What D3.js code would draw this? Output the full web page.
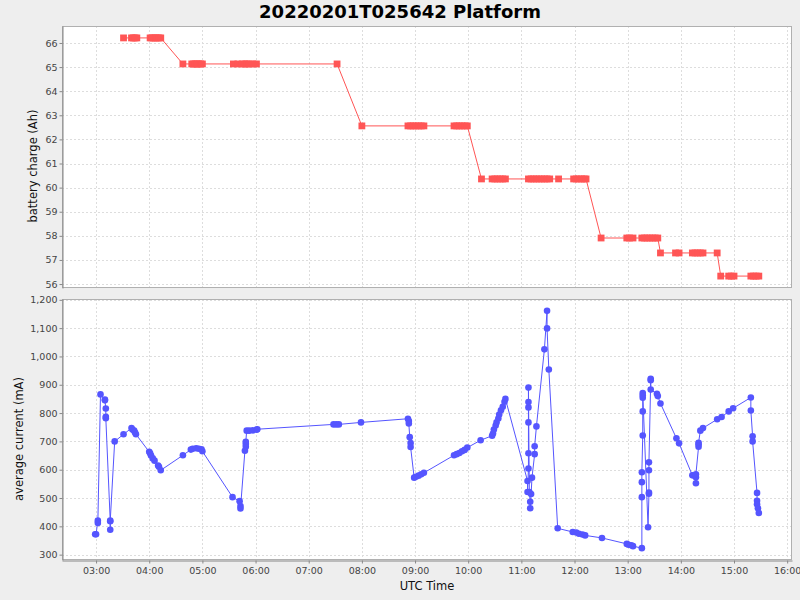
<!DOCTYPE html>
<html>
<head>
<meta charset="utf-8">
<script src="https://cdn.jsdelivr.net/npm/d3@7"></script>
<style>
  body { margin: 0; background: #eeeeee; }
  svg { display: block; font-family: "DejaVu Sans", sans-serif; }
</style>
</head>
<body>
<svg id="chart" width="800" height="600"></svg>
<script>
// battery charge samples (UTC, Ah)
const chargeTimes = [
  "03:31", "03:40", "03:42", "03:44", "03:46", "04:01", "04:03", "04:05", "04:07", "04:09", "04:11", "04:13",
  "04:38", "04:48", "04:50", "04:52", "04:54", "04:56", "04:58", "05:00",
  "05:35", "05:40", "05:45", "05:48", "05:50", "05:53", "05:57", "06:01", "07:32",
  "08:00", "08:52", "08:55", "08:58", "09:01", "09:04", "09:07", "09:10",
  "09:44", "09:47", "09:50", "09:53", "09:56", "09:59",
  "10:15", "10:27", "10:30", "10:33", "10:36", "10:39", "10:42",
  "11:08", "11:11", "11:14", "11:17", "11:20", "11:23", "11:26", "11:29", "11:32",
  "11:42", "11:59", "12:02", "12:05", "12:08", "12:11", "12:13",
  "12:30", "12:59", "13:02", "13:06", "13:16", "13:19", "13:22", "13:25", "13:28", "13:31", "13:34",
  "13:37", "13:54", "13:58", "14:13", "14:16", "14:19", "14:22", "14:25", "14:41",
  "14:45", "14:54", "14:57", "15:00", "15:19", "15:22", "15:25", "15:28"
];
const chargeValues = [
  66.21, 66.21, 66.21, 66.21, 66.21, 66.21, 66.21, 66.21, 66.21, 66.21, 66.21, 66.21,
  65.13, 65.13, 65.13, 65.13, 65.13, 65.13, 65.13, 65.13,
  65.13, 65.13, 65.13, 65.13, 65.13, 65.13, 65.13, 65.13, 65.13,
  62.56, 62.56, 62.56, 62.56, 62.56, 62.56, 62.56, 62.56,
  62.56, 62.56, 62.56, 62.56, 62.56, 62.56,
  60.36, 60.36, 60.36, 60.36, 60.36, 60.36, 60.36,
  60.36, 60.36, 60.36, 60.36, 60.36, 60.36, 60.36, 60.36, 60.36,
  60.36, 60.36, 60.36, 60.36, 60.36, 60.36, 60.36,
  57.91, 57.91, 57.91, 57.91, 57.91, 57.91, 57.91, 57.91, 57.91, 57.91, 57.91,
  57.29, 57.29, 57.29, 57.29, 57.29, 57.29, 57.29, 57.29, 57.29,
  56.33, 56.33, 56.33, 56.33, 56.33, 56.33, 56.33, 56.33
];

// average current samples (UTC, mA)
const currentTimes = [
  "02:59", "03:00", "03:02", "03:02", "03:05", "03:10", "03:10", "03:11", "03:11", "03:11", "03:16", "03:16", "03:16",
  "03:21", "03:31", "03:40", "03:41", "03:43", "03:44", "03:45",
  "04:00", "04:01", "04:02", "04:04", "04:06", "04:10", "04:11", "04:13",
  "04:38", "04:47", "04:49", "04:53", "04:56", "04:59", "05:00",
  "05:34", "05:42", "05:43", "05:43",
  "05:48", "05:49", "05:49", "05:49", "05:50", "05:53", "05:57", "06:01", "06:02",
  "07:28", "07:31", "07:34", "07:59",
  "08:52", "08:53", "08:53", "08:54", "08:55", "08:55",
  "08:59", "09:01", "09:04", "09:07", "09:10",
  "09:44", "09:47", "09:50", "09:53", "09:56", "09:59",
  "10:14", "10:27", "10:28", "10:29", "10:31", "10:32", "10:34", "10:35", "10:37", "10:39", "10:41", "10:42",
  "11:07", "11:07", "11:08", "11:08", "11:08", "11:08", "11:08", "11:08",
  "11:09", "11:10", "11:10", "11:11", "11:12", "11:15", "11:15", "11:17",
  "11:26", "11:29", "11:29", "11:31", "11:41",
  "11:58", "12:02", "12:05", "12:09", "12:12", "12:31",
  "12:59", "13:01", "13:04", "13:06",
  "13:16", "13:16", "13:16", "13:16", "13:17", "13:17", "13:17", "13:17", "13:17",
  "13:23", "13:24", "13:24", "13:24", "13:24", "13:26", "13:26", "13:26",
  "13:33", "13:34", "13:37", "13:55", "13:58",
  "14:13", "14:17", "14:17", "14:17", "14:20", "14:20", "14:20", "14:22", "14:25",
  "14:41", "14:46", "14:54", "14:59",
  "15:19", "15:19", "15:21", "15:21", "15:26", "15:26", "15:26", "15:27", "15:28"
];
const currentValues = [
  372, 372, 420, 412, 866, 848, 845, 816, 787, 782, 418, 388, 420,
  700, 725, 747, 742, 738, 731, 725,
  663, 658, 650, 640, 632, 615, 610, 598,
  651, 671, 674, 676, 674, 672, 665,
  503, 489, 472, 463,
  667, 681, 691, 699, 738, 738, 739, 741, 743,
  760, 760, 760, 767,
  780, 772, 763, 715, 694, 680,
  572, 575, 579, 584, 589,
  651, 655, 659, 665, 670, 678,
  704, 720, 728, 742, 756, 767, 781, 795, 810, 822, 840, 850,
  560, 521, 604, 658, 767, 820, 839, 890,
  521, 487, 464, 514, 572, 655, 683, 753,
  1025, 1161, 1099, 954, 393,
  380, 378, 374, 371, 368, 359,
  338, 335, 333, 330,
  323, 503, 556, 591, 721, 806, 854, 863, 871,
  397, 515, 519, 598, 626, 916, 921, 883,
  868, 860, 834, 711, 693,
  580, 573, 552, 584, 681, 690, 695, 738, 747,
  778, 786, 806, 817,
  855, 809, 718, 700, 518, 490, 478, 464, 447
];

const hourTicks = ["03:00", "04:00", "05:00", "06:00", "07:00", "08:00", "09:00", "10:00",
  "11:00", "12:00", "13:00", "14:00", "15:00", "16:00"];
const chargeTicks = [56, 57, 58, 59, 60, 61, 62, 63, 64, 65, 66];
const currentTicks = [300, 400, 500, 600, 700, 800, 900, 1000, 1100, 1200];

const parseTime = d3.utcParse("%Y-%m-%d %H:%M");
const toDate = t => parseTime("2022-02-01 " + t);

const chargeData = chargeTimes.map((t, i) => ({ t: toDate(t), v: chargeValues[i] }));
const currentData = currentTimes.map((t, i) => ({ t: toDate(t), v: currentValues[i] }));

// 5% margin on each side, like the original chart's auto range
function padded(ext) {
  const d = (ext[1] - ext[0]) * 0.05;
  return [ext[0] - d, ext[1] + d];
}

const plotLeft = 62, plotRight = 792;
const top1 = 26, bottom1 = 288;
const top2 = 299, bottom2 = 560;

const allTimes = chargeData.concat(currentData).map(d => +d.t);
const x = d3.scaleUtc()
  .domain(padded(d3.extent(allTimes)).map(v => new Date(v)))
  .range([plotLeft, plotRight]);

const yCharge = d3.scaleLinear()
  .domain(padded(d3.extent(chargeValues)))
  .range([bottom1, top1]);

const yCurrent = d3.scaleLinear()
  .domain(padded(d3.extent(currentValues)))
  .range([bottom2, top2]);

const svg = d3.select('#chart');
svg.append('rect').attr('width', 800).attr('height', 600).attr('fill', '#eeeeee');

// title
svg.append('text')
  .attr('x', 400).attr('y', 18)
  .attr('text-anchor', 'middle')
  .attr('font-size', '18px').attr('font-weight', 'bold')
  .attr('fill', '#000')
  .text('20220201T025642 Platform');

function drawPanel(y, y0, y1, ticks) {
  const g = svg.append('g');
  g.append('rect')
    .attr('x', plotLeft).attr('y', y0)
    .attr('width', plotRight - plotLeft).attr('height', y1 - y0)
    .attr('fill', '#fff');

  // grid
  g.selectAll('.vg').data(hourTicks.map(toDate)).enter().append('line')
    .attr('x1', d => Math.round(x(d)) + 0.5).attr('x2', d => Math.round(x(d)) + 0.5)
    .attr('y1', y0).attr('y2', y1)
    .attr('stroke', '#dddddd').attr('stroke-dasharray', '2,2');
  g.selectAll('.hg').data(ticks).enter().append('line')
    .attr('x1', plotLeft).attr('x2', plotRight)
    .attr('y1', d => Math.round(y(d)) + 0.5).attr('y2', d => Math.round(y(d)) + 0.5)
    .attr('stroke', '#dddddd').attr('stroke-dasharray', '2,2');

  g.append('rect')
    .attr('x', plotLeft + 0.5).attr('y', y0 + 0.5)
    .attr('width', plotRight - plotLeft - 1).attr('height', y1 - y0 - 1)
    .attr('fill', 'none').attr('stroke', '#b0b0b0');

  // y axis
  const ax = svg.append('g')
    .attr('transform', `translate(${plotLeft + 0.5},0)`)
    .call(d3.axisLeft(y).tickValues(ticks).tickFormat(d3.format(',')).tickSize(3).tickSizeOuter(0).tickPadding(2));
  ax.select('.domain').attr('stroke', '#888');
  ax.selectAll('.tick line').attr('stroke', '#888');
  ax.selectAll('.tick text').attr('fill', '#444').attr('font-size', '9.5px')
    .attr('font-family', '"DejaVu Sans", sans-serif');
  return g;
}

drawPanel(yCharge, top1, bottom1, chargeTicks);
drawPanel(yCurrent, top2, bottom2, currentTicks);

// x axis (shared, under the lower plot)
const xa = svg.append('g')
  .attr('transform', `translate(0,${bottom2 + 0.5})`)
  .call(d3.axisBottom(x).tickValues(hourTicks.map(toDate)).tickFormat(d3.utcFormat('%H:%M'))
    .tickSize(3).tickSizeOuter(0).tickPadding(4));
xa.select('.domain').attr('stroke', '#888');
xa.selectAll('.tick line').attr('stroke', '#888');
xa.selectAll('.tick text').attr('fill', '#444').attr('font-size', '9.5px')
  .attr('font-family', '"DejaVu Sans", sans-serif');

// axis labels
svg.append('text')
  .attr('transform', 'translate(33,166) rotate(-90)')
  .attr('text-anchor', 'middle').attr('dominant-baseline', 'central')
  .attr('font-size', '11.5px').attr('fill', '#111')
  .text('battery charge (Ah)');
svg.append('text')
  .attr('transform', 'translate(19,439) rotate(-90)')
  .attr('text-anchor', 'middle').attr('dominant-baseline', 'central')
  .attr('font-size', '11.5px').attr('fill', '#111')
  .text('average current (mA)');
svg.append('text')
  .attr('x', 427).attr('y', 590)
  .attr('text-anchor', 'middle')
  .attr('font-size', '11.5px').attr('fill', '#111')
  .text('UTC Time');

// battery charge series
const red = '#ff5555';
svg.append('path')
  .datum(chargeData)
  .attr('fill', 'none').attr('stroke', red).attr('stroke-width', 1)
  .attr('d', d3.line().x(d => x(d.t)).y(d => yCharge(d.v)));
const sq = 6.8;
svg.selectAll('.cq').data(chargeData).enter().append('rect')
  .attr('x', d => x(d.t) - sq / 2).attr('y', d => yCharge(d.v) - sq / 2)
  .attr('width', sq).attr('height', sq)
  .attr('fill', red);

// average current series
const blue = '#5555ff';
svg.append('path')
  .datum(currentData)
  .attr('fill', 'none').attr('stroke', blue).attr('stroke-width', 1)
  .attr('d', d3.line().x(d => x(d.t)).y(d => yCurrent(d.v)));
svg.selectAll('.cc').data(currentData).enter().append('circle')
  .attr('cx', d => x(d.t)).attr('cy', d => yCurrent(d.v))
  .attr('r', 3.3)
  .attr('fill', blue);
</script>
</body>
</html>
